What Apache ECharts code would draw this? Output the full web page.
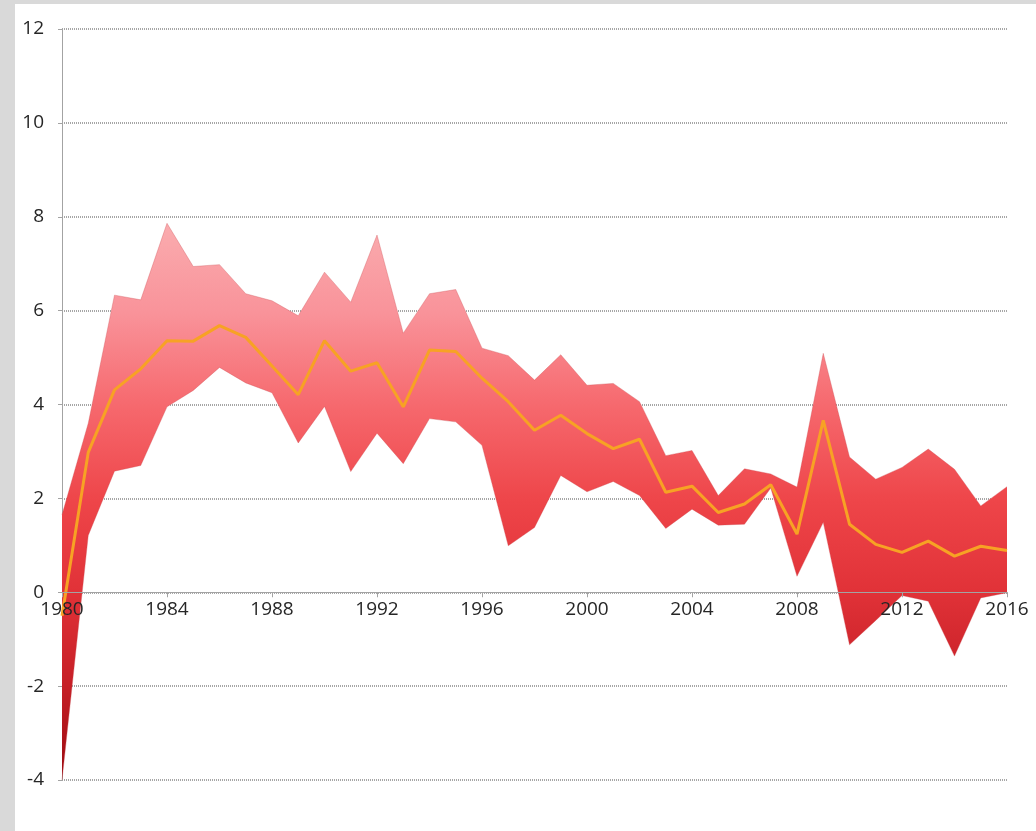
<!DOCTYPE html>
<html>
<head>
<meta charset="utf-8">
<script src="https://cdn.jsdelivr.net/npm/echarts@6/dist/echarts.min.js"></script>
<style>
  html, body { margin: 0; padding: 0; background: #ffffff; }
  #frame {
    width: 1021px; height: 827px;
    border-left: 15px solid #d9d9d9;
    border-top: 4px solid #d9d9d9;
    background: #ffffff;
  }
  #chart { width: 1021px; height: 827px; }
</style>
</head>
<body>
<div id="frame"><div id="chart"></div></div>
<script>
// Years on the horizontal axis
const years = [
  1980, 1981, 1982, 1983, 1984, 1985, 1986, 1987, 1988, 1989,
  1990, 1991, 1992, 1993, 1994, 1995, 1996, 1997, 1998, 1999,
  2000, 2001, 2002, 2003, 2004, 2005, 2006, 2007, 2008, 2009,
  2010, 2011, 2012, 2013, 2014, 2015, 2016
];

// Upper edge of the range
const upper = [
  1.65, 3.60, 6.33, 6.23, 7.86, 6.94, 6.98, 6.36, 6.21, 5.89,
  6.82, 6.18, 7.61, 5.52, 6.36, 6.45, 5.20, 5.04, 4.52, 5.06,
  4.41, 4.45, 4.06, 2.91, 3.02, 2.06, 2.63, 2.52, 2.24, 5.09,
  2.88, 2.41, 2.66, 3.05, 2.62, 1.84, 2.25
];

// Lower edge of the range
const lower = [
  -4.00, 1.21, 2.58, 2.70, 3.95, 4.30, 4.79, 4.46, 4.25, 3.18,
  3.96, 2.57, 3.39, 2.74, 3.70, 3.63, 3.13, 0.99, 1.38, 2.49,
  2.14, 2.36, 2.06, 1.36, 1.77, 1.43, 1.45, 2.22, 0.34, 1.49,
  -1.12, -0.60, -0.07, -0.19, -1.36, -0.12, -0.01
];

// Central line
const median = [
  -0.50, 2.98, 4.31, 4.76, 5.36, 5.35, 5.68, 5.43, 4.82, 4.21,
  5.36, 4.71, 4.89, 3.95, 5.16, 5.13, 4.56, 4.06, 3.45, 3.77,
  3.38, 3.06, 3.26, 2.13, 2.26, 1.70, 1.88, 2.29, 1.24, 3.66,
  1.45, 1.02, 0.85, 1.09, 0.77, 0.98, 0.89
];

// Value axis range and step
const yMin = -4, yMax = 12, yStep = 2;

// Band height stacked on top of the lower edge
const spread = upper.map((u, i) => +(u - lower[i]).toFixed(3));

const fontFamily = '"Open Sans", "Liberation Sans", sans-serif';
const edgeStyle = { width: 1, color: 'rgba(205, 80, 85, 0.35)' };

const grid = { left: 47, right: 29, top: 25, bottom: 51 };
const chartHeight = 827;
const plotHeight = chartHeight - grid.top - grid.bottom;
// Shift the category axis (line, ticks and labels) up to the zero line
const zeroOffset = -plotHeight * (0 - yMin) / (yMax - yMin);

const chart = echarts.init(document.getElementById('chart'), null, { renderer: 'canvas' });

chart.setOption({
  animation: false,
  backgroundColor: '#ffffff',
  grid: Object.assign({ containLabel: false }, grid),
  xAxis: {
    type: 'category',
    data: years.map(String),
    boundaryGap: false,
    position: 'bottom',
    offset: zeroOffset,
    z: 10,
    axisLine: { onZero: false, lineStyle: { color: '#a3a3a3', width: 1 } },
    axisTick: { show: true, interval: 3, length: 5, lineStyle: { color: '#a3a3a3' } },
    axisLabel: {
      interval: 3,
      margin: 8,
      color: '#262626',
      fontSize: 19,
      fontFamily: fontFamily
    },
    splitLine: { show: false }
  },
  yAxis: {
    type: 'value',
    min: yMin,
    max: yMax,
    interval: yStep,
    axisLine: { show: true, lineStyle: { color: '#a3a3a3', width: 1 } },
    axisTick: { show: true, length: 4, lineStyle: { color: '#a3a3a3' } },
    axisLabel: {
      margin: 18,
      color: '#262626',
      fontSize: 19,
      fontFamily: fontFamily
    },
    splitLine: {
      show: true,
      lineStyle: { color: '#a6a6a6', width: 2, type: [1, 1] }
    }
  },
  series: [
    {
      name: 'lower',
      type: 'line',
      data: lower,
      stack: 'band',
      stackStrategy: 'all',
      symbol: 'none',
      lineStyle: edgeStyle,
      z: 2
    },
    {
      name: 'range',
      type: 'line',
      data: spread,
      stack: 'band',
      stackStrategy: 'all',
      symbol: 'none',
      lineStyle: edgeStyle,
      areaStyle: {
        opacity: 1,
        color: new echarts.graphic.LinearGradient(0, 0, 0, 1, [
          { offset: 0.00, color: '#faacaf' },
          { offset: 0.16, color: '#f9939a' },
          { offset: 0.33, color: '#f6686d' },
          { offset: 0.50, color: '#ee4549' },
          { offset: 0.66, color: '#e13238' },
          { offset: 0.83, color: '#c61f26' },
          { offset: 1.00, color: '#9a0a10' }
        ])
      },
      z: 2
    },
    {
      name: 'median',
      type: 'line',
      data: median,
      symbol: 'none',
      lineStyle: { color: '#f7a224', width: 3 },
      z: 3
    }
  ]
});
</script>
</body>
</html>
